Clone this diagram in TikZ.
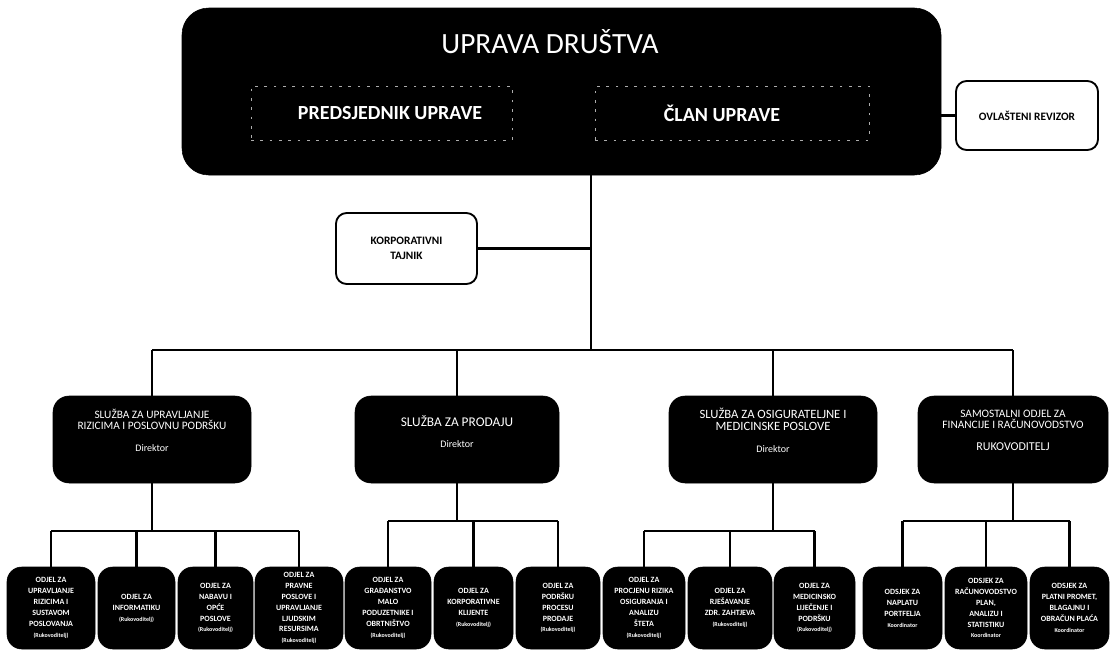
\documentclass[tikz,border=0pt]{standalone}
\usepackage{fontspec}
\setmainfont{Carlito}
\usetikzlibrary{calc}
\begin{document}
\begin{tikzpicture}[x=0.75pt,y=-0.75pt,
  wh/.style 2 args={minimum width=#1*0.75pt,minimum height=#2*0.75pt},
  blk/.style={fill=black,draw=black,rounded corners=12pt,inner sep=0pt},
  wbox/.style={fill=white,draw=black,line width=1.4pt,rounded corners=8pt,inner sep=0pt,align=center,font=\bfseries\fontsize{8.5}{11}\selectfont},
  conn/.style={line width=1.8pt,draw=black},
  dbox/.style={draw=gray!65,dash pattern=on 2pt off 5pt,line width=0.6pt,inner sep=0pt},
  mtext/.style={text=white,align=center,font=\fontsize{8.5}{8.5}\selectfont},
  bbox/.style={blk,rounded corners=11pt,text=white,align=center,font=\bfseries\fontsize{6}{8.2}\selectfont},
  sm/.style={font=\fontsize{4}{7.6}\selectfont}
]
\useasboundingbox[fill=white] (0,0) rectangle (1111,650);

% top
\node[blk,rounded corners=20pt,wh={759}{167}] (top) at (561.5,91.5) {};
\node[text=white,font=\fontsize{22}{24}\selectfont] (title) at (550,42) {UPRAVA DRUŠTVA};
\node[dbox,wh={261}{54}] (dl) at (381.5,113) {};
\node[dbox,wh={274}{54}] (dr) at (732,113) {};
\node[text=white,font=\bfseries\fontsize{15}{17}\selectfont] (tp) at (390,113) {PREDSJEDNIK UPRAVE};
\node[text=white,font=\bfseries\fontsize{15}{17}\selectfont] (tc) at (722,113) {ČLAN UPRAVE};

\node[wbox,wh={142}{69}] (rev) at (1027,115.5) {OVLAŠTENI REVIZOR};
\node[wbox,wh={141}{71}] (kt) at (406.5,248.5) {KORPORATIVNI\\TAJNIK};

\coordinate (hub) at (591,350);
\draw[conn] (rev.west) -- (rev.west -| top.east);
\draw[conn] (top.south -| hub) -- (hub);
\draw[conn] (kt.east) -- (kt.east -| hub);

% middle
\node[blk,wh={198}{87}] (m1) at (152,439.5) {};
\node[blk,wh={204}{87}] (m2) at (457,439.5) {};
\node[blk,wh={208}{87}] (m3) at (773,439.5) {};
\node[blk,wh={190}{87}] (m4) at (1013,439.5) {};
\node[mtext] (t1) at ($(m1)+(0,-9)$) {SLUŽBA ZA UPRAVLJANJE\\RIZICIMA I POSLOVNU PODRŠKU\\[8pt]{\fontsize{7.5}{8}\selectfont Direktor}};
\node[mtext,font=\fontsize{10}{10}\selectfont] (t2) at ($(m2)+(0,-8)$) {SLUŽBA ZA PRODAJU\\[6pt]{\fontsize{7.5}{8}\selectfont Direktor}};
\node[mtext,font=\fontsize{9.5}{9}\selectfont] (t3) at ($(m3)+(0,-9)$) {SLUŽBA ZA OSIGURATELJNE I\\MEDICINSKE POSLOVE\\[8pt]{\fontsize{7.5}{8}\selectfont Direktor}};
\node[mtext] (t4) at ($(m4)+(0,-9)$) {SAMOSTALNI ODJEL ZA\\FINANCIJE I RAČUNOVODSTVO\\[8pt]{\fontsize{9}{9}\selectfont RUKOVODITELJ}};

\draw[conn] (m1.north |- hub) -- (m4.north |- hub);
\foreach \m in {m1,m2,m3,m4} \draw[conn] (\m.north |- hub) -- (\m.north);

% bottom
\node[bbox,wh={88}{82}] (b1) at (51,608) {ODJEL ZA\\UPRAVLJANJE\\RIZICIMA I\\SUSTAVOM\\POSLOVANJA\\{\fontsize{4.5}{8.2}\selectfont (Rukovoditelj)}};
\node[bbox,wh={77}{82}] (b2) at (136.5,608) {ODJEL ZA\\INFORMATIKU\\{\fontsize{4.5}{8.2}\selectfont (Rukovoditelj)}};
\node[bbox,wh={75}{82}] (b3) at (215.5,608) {ODJEL ZA\\NABAVU I\\OPĆE\\POSLOVE\\{\fontsize{4.5}{8.2}\selectfont (Rukovoditelj)}};
\node[bbox,wh={88}{82}] (b4) at (299,608) {ODJEL ZA\\PRAVNE\\POSLOVE I\\UPRAVLJANJE\\LJUDSKIM\\RESURSIMA\\{\fontsize{4.5}{8.2}\selectfont (Rukovoditelj)}};
\node[bbox,wh={86}{82}] (b5) at (388,608) {ODJEL ZA\\GRAĐANSTVO\\MALO\\PODUZETNIKE I\\OBRTNIŠTVO\\{\fontsize{4.5}{8.2}\selectfont (Rukovoditelj)}};
\node[bbox,wh={79}{82}] (b6) at (473.5,608) {ODJEL ZA\\KORPORATIVNE\\KLIJENTE\\{\fontsize{4.5}{8.2}\selectfont (Rukovoditelj)}};
\node[bbox,wh={84}{82}] (b7) at (558,608) {ODJEL ZA\\PODRŠKU\\PROCESU\\PRODAJE\\{\fontsize{4.5}{8.2}\selectfont (Rukovoditelj)}};
\node[bbox,wh={82}{82}] (b8) at (644,608) {ODJEL ZA\\PROCJENU RIZIKA\\OSIGURANJA I\\ANALIZU\\ŠTETA\\{\fontsize{4.5}{8.2}\selectfont (Rukovoditelj)}};
\node[bbox,wh={84}{82}] (b9) at (730,608) {ODJEL ZA\\RJEŠAVANJE\\ZDR. ZAHTJEVA\\{\fontsize{4.5}{8.2}\selectfont (Rukovoditelj)}};
\node[bbox,wh={81}{82}] (b10) at (814.5,608) {ODJEL ZA\\MEDICINSKO\\LIJEČENJE I\\PODRŠKU\\{\fontsize{4.5}{8.2}\selectfont (Rukovoditelj)}};
\node[bbox,wh={79}{82}] (b11) at (902.5,608) {ODSJEK ZA\\NAPLATU\\PORTFELJA\\{\fontsize{4.5}{8.2}\selectfont Koordinator}};
\node[bbox,wh={82}{82}] (b12) at (986,608) {ODSJEK ZA\\RAČUNOVODSTVO\\PLAN,\\ANALIZU I\\STATISTIKU\\{\fontsize{4.5}{8.2}\selectfont Koordinator}};
\node[bbox,wh={79}{82}] (b13) at (1069.5,608) {ODSJEK ZA\\PLATNI PROMET,\\BLAGAJNU I\\OBRAČUN PLAĆA\\{\fontsize{4.5}{8.2}\selectfont Koordinator}};

% group connectors
\coordinate (g1) at (0,531);
\coordinate (g2) at (0,521);
\coordinate (g3) at (0,531);
\coordinate (g4) at (0,521);
\draw[conn] (m1.south) -- (m1.south |- g1);
\draw[conn] (b1.north |- g1) -- (b4.north |- g1);
\foreach \b in {b1,b2,b3,b4} \draw[conn] (\b.north |- g1) -- (\b.north);
\draw[conn] (m2.south) -- (m2.south |- g2);
\draw[conn] (b5.north |- g2) -- (b7.north |- g2);
\foreach \b in {b5,b6,b7} \draw[conn] (\b.north |- g2) -- (\b.north);
\draw[conn] (m3.south) -- (m3.south |- g3);
\draw[conn] (b8.north |- g3) -- (b10.north |- g3);
\foreach \b in {b8,b9,b10} \draw[conn] (\b.north |- g3) -- (\b.north);
\draw[conn] (m4.south) -- (m4.south |- g4);
\draw[conn] (b11.north |- g4) -- (b13.north |- g4);
\foreach \b in {b11,b12,b13} \draw[conn] (\b.north |- g4) -- (\b.north);
\end{tikzpicture}
\end{document}
